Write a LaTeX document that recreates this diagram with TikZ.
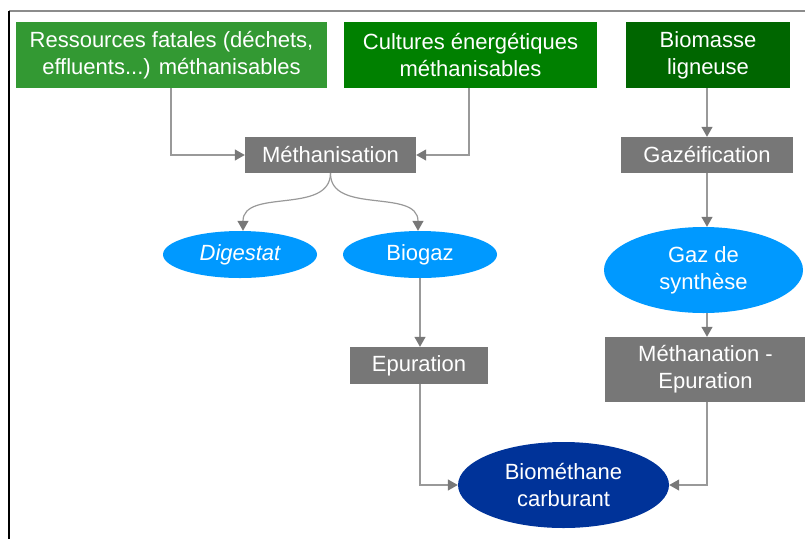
\documentclass[tikz,border=0pt]{standalone}
\usepackage{fontspec}
\setmainfont{Liberation Sans}
\usetikzlibrary{arrows.meta,shapes.geometric}
\definecolor{gA}{RGB}{51,153,51}
\definecolor{gB}{RGB}{0,128,0}
\definecolor{gC}{RGB}{0,102,0}
\definecolor{boxgray}{RGB}{119,119,119}
\definecolor{lightblue}{RGB}{0,153,255}
\definecolor{darkblue}{RGB}{0,51,153}
\definecolor{linegray}{RGB}{153,153,153}
\definecolor{tipgray}{RGB}{120,120,120}
\begin{document}
\begin{tikzpicture}[x=1pt,y=-1pt,
  every node/.style={text=white,font=\fontsize{22}{27}\selectfont,align=center,inner sep=0pt},
  greenbox/.style={rectangle,minimum height=66pt},
  graybox/.style={rectangle,fill=boxgray},
  oval/.style={ellipse},
  conn/.style={draw=linegray,line width=1.2pt,-{Triangle[length=10pt,width=11pt,color=tipgray]}}
]
\useasboundingbox (0,0) rectangle (805,539);
\draw[draw=gray!90,line width=1.5pt] (9,11) -- (805,11);
\draw[draw=black,line width=1.5pt] (9,11) -- (9,539);

\node[greenbox,fill=gA,minimum width=311pt] (res) at (171.5,55) {Ressources fatales (déchets,\\effluents...) méthanisables};
\node[greenbox,fill=gB,minimum width=253pt] (cult) at (470.5,55) {Cultures énergétiques\\méthanisables};
\node[greenbox,fill=gC,minimum width=164pt] (bio) at (708,55) {Biomasse\\ligneuse};

\node[graybox,minimum width=171pt,minimum height=36pt] (meth) at (330.5,155) {Méthanisation};
\node[graybox,minimum width=172pt,minimum height=36pt] (gaz) at (707,155) {Gazéification};

\node[oval,fill=lightblue,minimum width=154pt,minimum height=47pt] (dig) at (240,254.5) {\itshape Digestat};
\node[oval,fill=lightblue,minimum width=154pt,minimum height=47pt] (biogaz) at (420,254.5) {Biogaz};
\node[oval,fill=lightblue,minimum width=199pt,minimum height=86pt] (syn) at (703.5,270) {Gaz de\\synthèse};

\node[graybox,minimum width=138pt,minimum height=37pt] (epur) at (419,365.5) {Epuration};
\node[graybox,minimum width=201pt,minimum height=65pt] (methan) at (705.5,369.5) {Méthanation -\\Epuration};

\node[oval,fill=darkblue,minimum width=211pt,minimum height=86pt] (biom) at (563.5,485) {Biométhane\\carburant};

\coordinate (resx) at (171,88);
\coordinate (cultx) at (469,88);
\coordinate (biox) at (707,88);
\coordinate (epx) at (420,384);
\coordinate (mtx) at (707,402);

\draw[conn] (resx) |- (meth.west);
\draw[conn] (cultx) |- (meth.east);
\draw[conn] (biox) -- (biox |- gaz.north);
\draw[conn] (meth.south) .. controls (330,215) and (243,188) .. (dig.north -| 243,0);
\draw[conn] (meth.south) .. controls (330,215) and (418,188) .. (biogaz.north -| 418,0);
\draw[conn] (epx |- biogaz.south) -- (epx |- epur.north);
\draw[conn] (biox |- gaz.south) -- (biox |- syn.north);
\draw[conn] (biox |- syn.south) -- (biox |- methan.north);
\draw[conn] (epx) |- (biom.west);
\draw[conn] (mtx) |- (biom.east);
\end{tikzpicture}
\end{document}
